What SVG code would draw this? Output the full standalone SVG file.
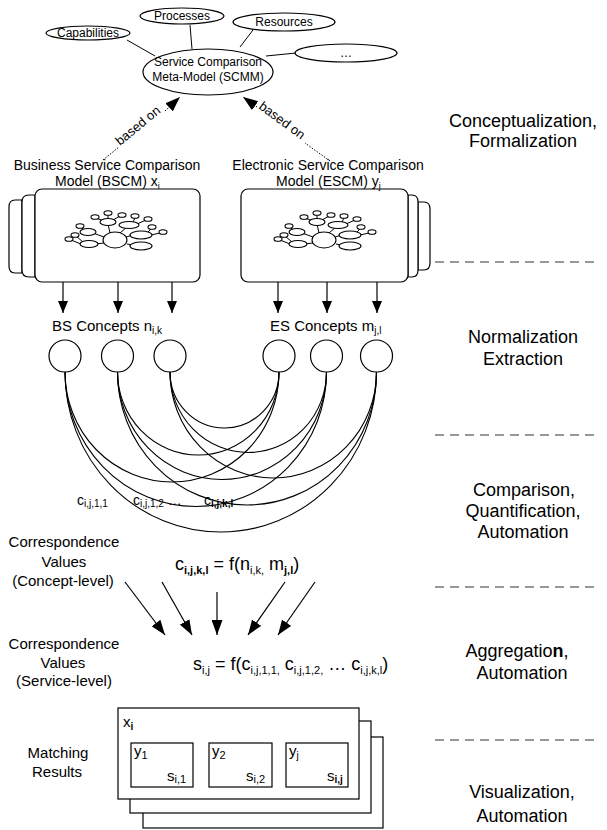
<svg xmlns="http://www.w3.org/2000/svg" xmlns:xlink="http://www.w3.org/1999/xlink" width="607" height="830" viewBox="0 0 607 830">
<style>
text{font-family:"Liberation Sans",Arial,sans-serif;fill:#000}
.s12{font-size:12px}
.s13{font-size:13px}
.s14{font-size:14px}
.s15{font-size:15px}
.s18{font-size:18px}
.mid{text-anchor:middle}
.ln{stroke:#000;stroke-width:1.2;fill:none}
.sh{stroke:#000;stroke-width:1.2;fill:#fff}
.dot{stroke:#000;stroke-width:1;stroke-dasharray:1.5,1.5;fill:none}
.dash{stroke:#333;stroke-width:1.2;stroke-dasharray:9,6;fill:none}
.arc{stroke:#000;stroke-width:1.1;fill:none}
.ne{stroke:#000;stroke-width:1.1;fill:#fff}
</style>
<defs>
<marker id="ah" viewBox="0 0 12 10" refX="12" refY="5" markerWidth="12" markerHeight="10" orient="auto" markerUnits="userSpaceOnUse"><path d="M0,0 L12,5 L0,10 z" fill="#000"/></marker>
<marker id="ahb" viewBox="0 0 15 11" refX="15" refY="5.5" markerWidth="15" markerHeight="11" orient="auto" markerUnits="userSpaceOnUse"><path d="M0,0 L15,5.5 L0,11 z" fill="#000"/></marker>
<g id="net">
<g class="ln" style="stroke-width:1">
<line x1="110" y1="233" x2="108" y2="224"/>
<line x1="120" y1="233" x2="127" y2="227"/>
<line x1="104" y1="237" x2="93" y2="233"/>
<line x1="126" y1="237" x2="133" y2="235"/>
<line x1="104" y1="243" x2="95" y2="244"/>
<line x1="127" y1="244" x2="133" y2="245"/>
<line x1="104" y1="221" x2="96" y2="218"/>
<line x1="108" y1="219" x2="108" y2="215"/>
<line x1="113" y1="220" x2="120" y2="216"/>
<line x1="133" y1="222" x2="135" y2="218"/>
<line x1="137" y1="224" x2="146" y2="220"/>
<line x1="84" y1="230" x2="81" y2="227"/>
<line x1="148" y1="232" x2="151" y2="229"/>
<line x1="151" y1="235" x2="160" y2="233"/>
<line x1="83" y1="242" x2="76" y2="236"/>
<line x1="81" y1="244" x2="71" y2="240"/>
</g>
<ellipse class="ne" cx="115" cy="240" rx="12" ry="8"/>
<ellipse class="ne" cx="108" cy="222" rx="8" ry="3.5"/>
<ellipse class="ne" cx="129" cy="225" rx="10" ry="3.5"/>
<ellipse class="ne" cx="88" cy="232" rx="8" ry="3.5"/>
<ellipse class="ne" cx="141" cy="235" rx="11" ry="4"/>
<ellipse class="ne" cx="89" cy="244" rx="9" ry="3.5"/>
<ellipse class="ne" cx="141" cy="246" rx="11" ry="4"/>
<ellipse class="ne" cx="95" cy="217" rx="4" ry="2.3"/>
<ellipse class="ne" cx="108" cy="213" rx="4" ry="2.3"/>
<ellipse class="ne" cx="122" cy="215" rx="4" ry="2.3"/>
<ellipse class="ne" cx="135" cy="216" rx="4" ry="2.3"/>
<ellipse class="ne" cx="148" cy="219" rx="4" ry="2.3"/>
<ellipse class="ne" cx="80" cy="226" rx="4" ry="2.3"/>
<ellipse class="ne" cx="152" cy="227" rx="4" ry="2.3"/>
<ellipse class="ne" cx="163" cy="232" rx="4" ry="2.3"/>
<ellipse class="ne" cx="75" cy="235" rx="4" ry="2.3"/>
<ellipse class="ne" cx="69" cy="239" rx="4" ry="2.3"/>
</g>
</defs>
<rect width="607" height="830" fill="#fff"/>

<!-- connectors -->
<g id="connectors">
<g class="ln" style="stroke-width:1">
<line x1="127" y1="40" x2="155" y2="56"/>
<line x1="190" y1="25" x2="192" y2="49"/>
<line x1="253" y1="30" x2="240" y2="47"/>
<line x1="296" y1="53" x2="266" y2="56"/>
</g>
<line class="dot" x1="103" y1="160" x2="119" y2="147"/>
<line class="dot" x1="165" y1="111" x2="180" y2="97" marker-end="url(#ahb)"/>
<line class="dot" x1="330" y1="161" x2="305" y2="143"/>
<line class="dot" x1="257" y1="107" x2="243" y2="97" marker-end="url(#ahb)"/>
<g class="ln">
<line x1="63" y1="265" x2="63" y2="313" marker-end="url(#ah)"/>
<line x1="118" y1="265" x2="118" y2="313" marker-end="url(#ah)"/>
<line x1="172" y1="265" x2="172" y2="313" marker-end="url(#ah)"/>
<line x1="278" y1="265" x2="278" y2="313" marker-end="url(#ah)"/>
<line x1="327" y1="265" x2="327" y2="313" marker-end="url(#ah)"/>
<line x1="377" y1="265" x2="377" y2="313" marker-end="url(#ah)"/>
</g>
<g class="arc">
<path d="M170,372 A54.5,56 0 0 0 279,372"/>
<path d="M170,372 A78.25,80.5 0 0 0 326.5,372"/>
<path d="M170,372 A103.25,106 0 0 0 376.5,372"/>
<path d="M117.5,372 A80.75,83 0 0 0 279,372"/>
<path d="M117.5,372 A104.5,107.5 0 0 0 326.5,372"/>
<path d="M117.5,372 A129.5,133 0 0 0 376.5,372"/>
<path d="M65,372 A107,110 0 0 0 279,372"/>
<path d="M65,372 A130.75,134.5 0 0 0 326.5,372"/>
<path d="M65,372 A155.75,160 0 0 0 376.5,372"/>
</g>
<g class="ln">
<line x1="125" y1="582" x2="165" y2="635" marker-end="url(#ahb)"/>
<line x1="162" y1="582" x2="192" y2="635" marker-end="url(#ahb)"/>
<line x1="217" y1="592" x2="217" y2="635" marker-end="url(#ahb)"/>
<line x1="285" y1="582" x2="248" y2="635" marker-end="url(#ahb)"/>
<line x1="315" y1="582" x2="278" y2="635" marker-end="url(#ahb)"/>
</g>
</g>

<!-- SCMM nodes -->
<g id="scmm">
<ellipse class="sh" cx="208" cy="72" rx="65" ry="23"/>
<text class="s12 mid" x="208" y="66">Service Comparison</text>
<text class="s12 mid" x="208" y="81">Meta-Model (SCMM)</text>
</g>
<g id="capabilities">
<ellipse class="sh" cx="88" cy="33" rx="42" ry="7"/>
<text class="s12 mid" x="88" y="37">Capabilities</text>
</g>
<g id="processes">
<ellipse class="sh" cx="182" cy="16" rx="42" ry="8"/>
<text class="s12 mid" x="182" y="20">Processes</text>
</g>
<g id="resources">
<ellipse class="sh" cx="284" cy="22" rx="51" ry="9"/>
<text class="s12 mid" x="284" y="26">Resources</text>
</g>
<g id="more">
<ellipse class="sh" cx="346" cy="53" rx="51" ry="9"/>
<text class="s12 mid" x="346" y="57">…</text>
</g>

<g id="based-on-labels">
<text class="s13" transform="translate(120,146) rotate(-39.5)">based on</text>
<text class="s13" transform="translate(258,108) rotate(36.5)">based on</text>
</g>

<!-- BSCM -->
<g id="bscm">
<path class="sh" d="M22,200 H15 Q9,200 9,207 V266 Q9,273 15,273 H22 Z"/>
<path class="sh" d="M35,195 H29 Q22,195 22,202 V270 Q22,277 29,277 H35 Z"/>
<rect class="sh" x="35" y="189" width="165" height="93" rx="7"/>
<use xlink:href="#net" href="#net"/>
<text class="s14 mid" x="107" y="170">Business Service Comparison</text>
<text class="s14" x="55" y="186">Model (BSCM) x<tspan font-size="9" dy="3">i</tspan></text>
</g>
<!-- ESCM -->
<g id="escm">
<path class="sh" d="M418,202 H424 Q430,202 430,209 V263 Q430,270 424,270 H418 Z"/>
<path class="sh" d="M408,195 H412 Q418,195 418,202 V270 Q418,277 412,277 H408 Z"/>
<rect class="sh" x="241" y="189" width="167" height="93" rx="7"/>
<use xlink:href="#net" href="#net" transform="translate(209,0)"/>
<text class="s14 mid" x="328" y="170">Electronic Service Comparison</text>
<text class="s14" x="276" y="186">Model (ESCM) y<tspan font-size="9" dy="3">j</tspan></text>
</g>

<g id="concept-labels">
<text class="s15" x="52" y="331">BS Concepts n<tspan font-size="10" dy="3">i,k</tspan></text>
<text class="s15" x="270" y="331">ES Concepts m<tspan font-size="10" dy="3">j,l</tspan></text>
</g>
<g id="bs1"><circle class="sh" cx="65" cy="356" r="16"/></g>
<g id="bs2"><circle class="sh" cx="117.5" cy="356" r="16"/></g>
<g id="bs3"><circle class="sh" cx="170" cy="356" r="16"/></g>
<g id="es1"><circle class="sh" cx="279" cy="356" r="16"/></g>
<g id="es2"><circle class="sh" cx="326.5" cy="356" r="16"/></g>
<g id="es3"><circle class="sh" cx="376.5" cy="356" r="16"/></g>

<g id="c-labels">
<text class="s14" x="77" y="505">c<tspan font-size="10" dy="2">i,j,1,1</tspan></text>
<text class="s14" x="133" y="505">c<tspan font-size="10" dy="2">i,j,1,2</tspan><tspan dy="-2"> …</tspan></text>
<text class="s14" x="204" y="505">c<tspan font-size="10" dy="2" font-weight="bold">i,j,k,l</tspan></text>
</g>

<g id="formulas">
<text class="s18" x="175" y="570">c<tspan font-size="11" dy="4" font-weight="bold">i,j,k,l</tspan><tspan dy="-4"> = f(n</tspan><tspan font-size="11" dy="4">i,k,</tspan><tspan dy="-4"> m</tspan><tspan font-size="11" dy="4" font-weight="bold">j,l</tspan><tspan dy="-4">)</tspan></text>
<text class="s18" x="193" y="670">s<tspan font-size="11" dy="4">i,j</tspan><tspan dy="-4"> = f(c</tspan><tspan font-size="11" dy="4">i,j,1,1,</tspan><tspan dy="-4"> c</tspan><tspan font-size="11" dy="4">i,j,1,2,</tspan><tspan dy="-4"> … c</tspan><tspan font-size="11" dy="4">i,j,k,l</tspan><tspan dy="-4">)</tspan></text>
</g>

<g id="left-labels">
<text class="s15 mid" x="64" y="547">Correspondence</text>
<text class="s15 mid" x="64" y="567">Values</text>
<text class="s15 mid" x="63" y="586">(Concept-level)</text>
<text class="s15 mid" x="64" y="649">Correspondence</text>
<text class="s15 mid" x="63" y="668">Values</text>
<text class="s15 mid" x="64" y="686">(Service-level)</text>
<text class="s15 mid" x="58" y="758">Matching</text>
<text class="s15 mid" x="57" y="777">Results</text>
</g>

<g id="matching">
<rect class="sh" x="143" y="737" width="240" height="91"/>
<rect class="sh" x="130" y="721" width="241" height="92"/>
<rect class="sh" x="118" y="708" width="241" height="91"/>
<text class="s15" x="123" y="727">x<tspan font-size="10" dy="3" font-weight="bold">i</tspan></text>
<rect class="sh" x="131" y="743" width="62" height="44"/>
<rect class="sh" x="209" y="743" width="63" height="44"/>
<rect class="sh" x="286" y="743" width="62" height="44"/>
<text class="s15" x="134" y="756">y<tspan font-size="11" dy="3">1</tspan></text>
<text class="s15" x="212" y="756">y<tspan font-size="11" dy="3">2</tspan></text>
<text class="s15" x="289" y="756">y<tspan font-size="10" dy="3">j</tspan></text>
<text class="s15" x="167" y="781">s<tspan font-size="11" dy="2">i,1</tspan></text>
<text class="s15" x="246" y="781">s<tspan font-size="11" dy="2">i,2</tspan></text>
<text class="s15" x="327" y="781">s<tspan font-size="10" dy="2" font-weight="bold">i,j</tspan></text>
</g>

<g id="phases">
<line class="dash" x1="435" y1="262" x2="600" y2="262"/>
<line class="dash" x1="435" y1="435" x2="600" y2="435"/>
<line class="dash" x1="435" y1="587" x2="600" y2="587"/>
<line class="dash" x1="435" y1="740" x2="600" y2="740"/>
<text class="s18 mid" x="523" y="127">Conceptualization,</text>
<text class="s18 mid" x="523" y="147">Formalization</text>
<text class="s18 mid" x="523" y="343">Normalization</text>
<text class="s18 mid" x="523" y="365">Extraction</text>
<text class="s18 mid" x="524" y="496">Comparison,</text>
<text class="s18 mid" x="523" y="517">Quantification,</text>
<text class="s18 mid" x="523" y="538">Automation</text>
<text class="s18 mid" x="517" y="657">Aggregatio<tspan font-weight="bold">n</tspan>,</text>
<text class="s18 mid" x="522" y="679">Automation</text>
<text class="s18 mid" x="522" y="798">Visualization,</text>
<text class="s18 mid" x="522" y="822">Automation</text>
</g>
</svg>
